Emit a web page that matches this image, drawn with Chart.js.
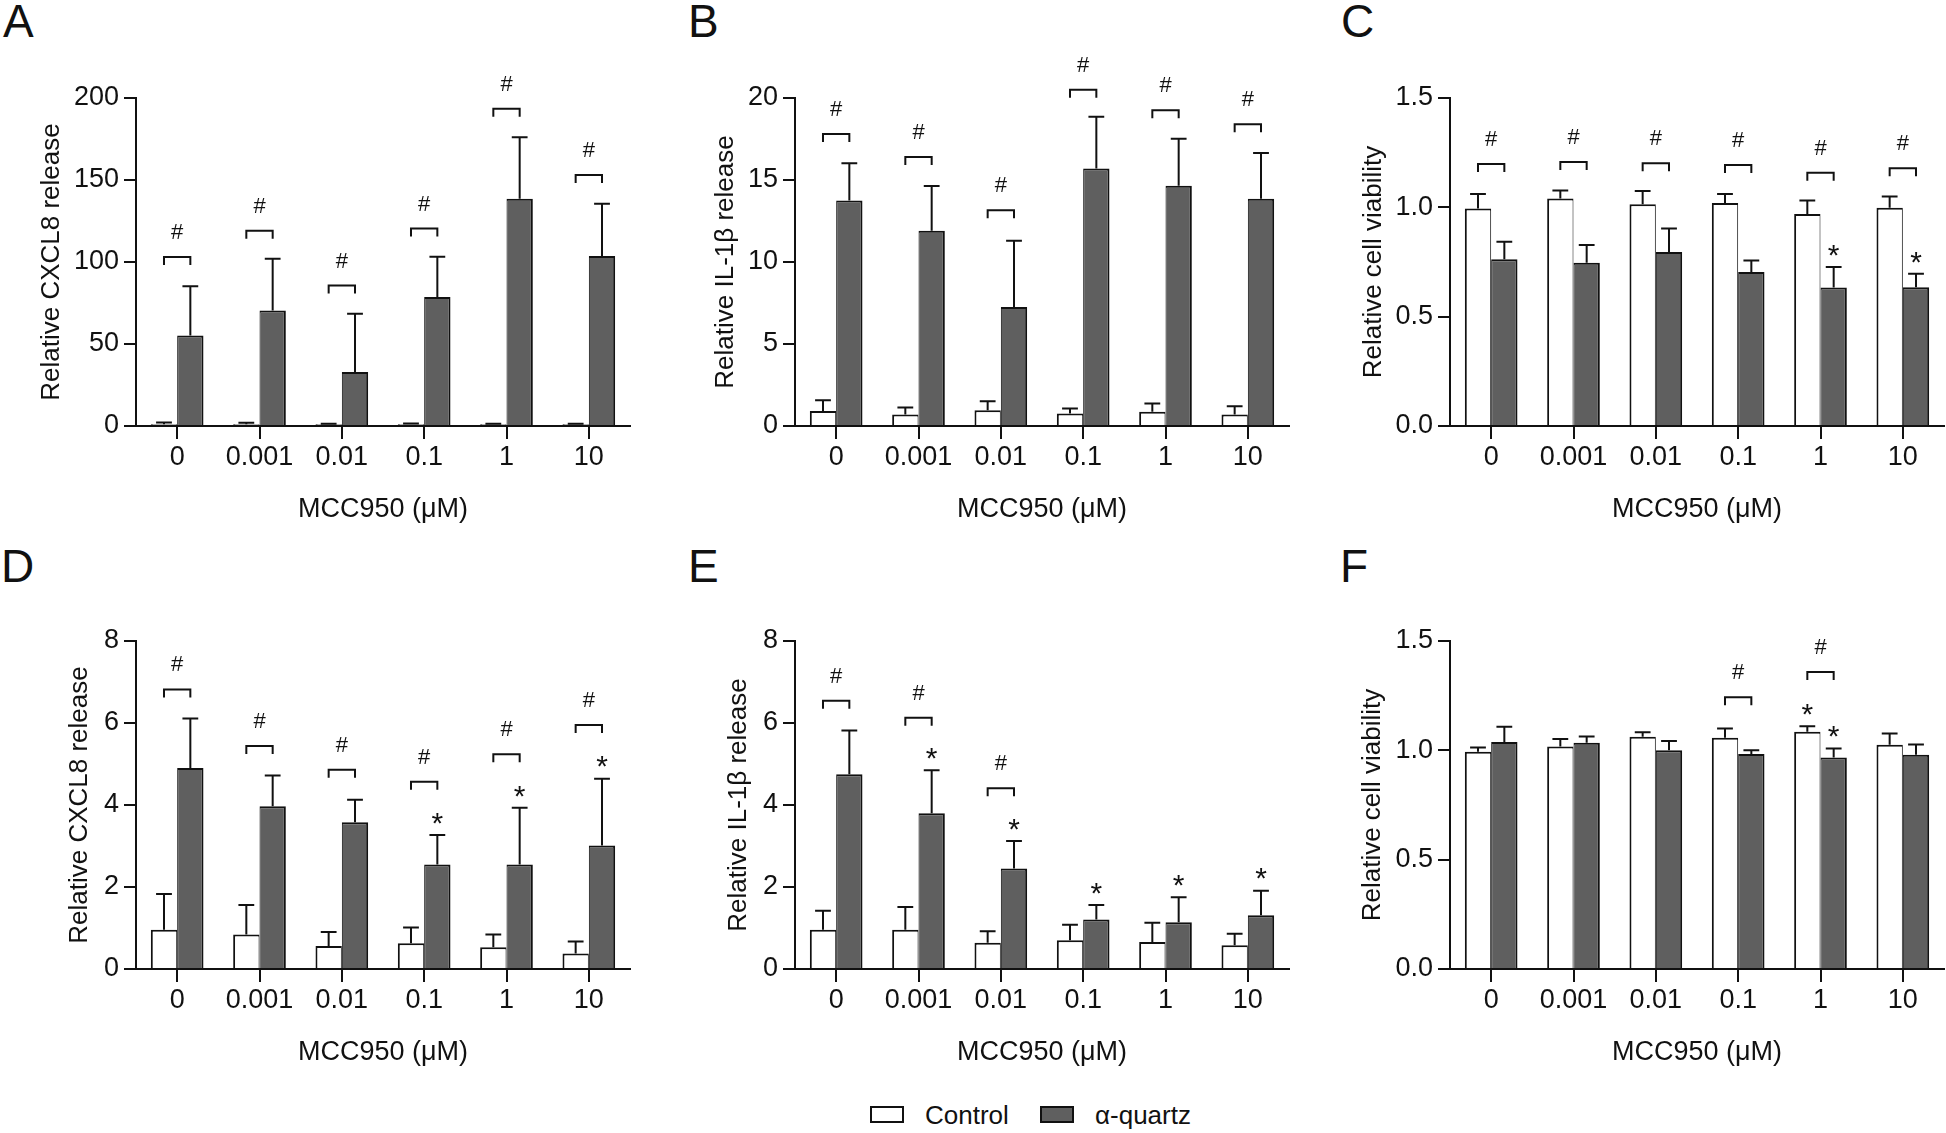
<!DOCTYPE html>
<html>
<head>
<meta charset="utf-8">
<script src="https://cdn.jsdelivr.net/npm/chart.js@4.4.0/dist/chart.umd.min.js"></script>
<style>
  body { margin: 0; background: #fff; width: 1946px; height: 1133px; position: relative; overflow: hidden;
         font-family: "Liberation Sans", Arial, sans-serif; color: #111; }
  canvas { position: absolute; }
  .letter { position: absolute; font-size: 46px; line-height: 46px; }
  .lg-box { position: absolute; width: 34px; height: 17px; box-sizing: border-box; border: 2px solid #111; }
  .lg-text { position: absolute; font-size: 26px; line-height: 26px; white-space: nowrap; }
</style>
</head>
<body>

<div class="letter" style="left:3px;top:-2px">A</div>
<div class="letter" style="left:688px;top:-2px">B</div>
<div class="letter" style="left:1341px;top:-2px">C</div>
<div class="letter" style="left:1px;top:543px">D</div>
<div class="letter" style="left:688px;top:543px">E</div>
<div class="letter" style="left:1340px;top:543px">F</div>

<canvas id="chartA" width="632" height="478" style="left:0px;top:48px"></canvas>
<canvas id="chartB" width="632" height="478" style="left:659px;top:48px"></canvas>
<canvas id="chartC" width="632" height="478" style="left:1314px;top:48px"></canvas>
<canvas id="chartD" width="632" height="478" style="left:0px;top:591px"></canvas>
<canvas id="chartE" width="632" height="478" style="left:659px;top:591px"></canvas>
<canvas id="chartF" width="632" height="478" style="left:1314px;top:591px"></canvas>

<div class="lg-box" style="left:870px;top:1106px;background:#fff"></div>
<div class="lg-text" style="left:925px;top:1102px">Control</div>
<div class="lg-box" style="left:1040px;top:1106px;background:#5f5f5f"></div>
<div class="lg-text" style="left:1095px;top:1102px">α-quartz</div>

<script>
Chart.defaults.font.family = '"Liberation Sans", Arial, sans-serif';
Chart.defaults.color = '#111';

// MCC950 doses, same on every panel
const doses = ['0', '0.001', '0.01', '0.1', '1', '10'];

// A - CXCL8 release
const a_ctrl = [1, 1, 1, 1, 1, 1];
const a_ctrlErr = [1.2, 1, 0.4, 0.5, 0.3, 0.3];
const a_quartz = [55.2, 70.5, 33, 78.7, 138.5, 103.7];
const a_quartzErr = [30, 31.5, 35.5, 24.5, 37.5, 31.8];
const a_hash = [103, 119, 85.7, 120.4, 193.5, 153];

// B - IL-1b release
const b_ctrl = [0.92, 0.7, 0.96, 0.76, 0.87, 0.7];
const b_ctrlErr = [0.65, 0.43, 0.55, 0.31, 0.5, 0.5];
const b_quartz = [13.75, 11.9, 7.25, 15.7, 14.65, 13.85];
const b_quartzErr = [2.27, 2.73, 4.05, 3.15, 2.87, 2.8];
const b_hash = [17.8, 16.4, 13.15, 20.5, 19.25, 18.4];

// C - cell viability
const c_ctrl = [0.995, 1.04, 1.014, 1.02, 0.97, 0.998];
const c_ctrlErr = [0.066, 0.037, 0.061, 0.041, 0.061, 0.052];
const c_quartz = [0.763, 0.747, 0.796, 0.704, 0.633, 0.634];
const c_quartzErr = [0.08, 0.081, 0.107, 0.053, 0.094, 0.062];
const c_hash = [1.198, 1.207, 1.202, 1.194, 1.158, 1.179];
const c_quartzStar = [0, 0, 0, 0, 1, 1];

// D - CXCL8 release
const d_ctrl = [0.96, 0.84, 0.56, 0.63, 0.53, 0.38];
const d_ctrlErr = [0.87, 0.72, 0.34, 0.38, 0.31, 0.29];
const d_quartz = [4.9, 3.97, 3.58, 2.55, 2.55, 3.01];
const d_quartzErr = [1.21, 0.75, 0.55, 0.72, 1.38, 1.63];
const d_hash = [6.82, 5.44, 4.86, 4.57, 5.24, 5.95];
const d_quartzStar = [0, 0, 0, 1, 1, 1];

// E - IL-1b release
const e_ctrl = [0.96, 0.96, 0.64, 0.7, 0.66, 0.58];
const e_ctrlErr = [0.46, 0.55, 0.28, 0.38, 0.47, 0.28];
const e_quartz = [4.75, 3.8, 2.45, 1.21, 1.14, 1.31];
const e_quartzErr = [1.07, 1.05, 0.67, 0.35, 0.61, 0.6];
const e_hash = [6.54, 6.13, 4.41, null, null, null];
const e_quartzStar = [0, 1, 1, 1, 1, 1];

// F - cell viability
const f_ctrl = [0.993, 1.017, 1.062, 1.057, 1.085, 1.025];
const f_ctrlErr = [0.02, 0.035, 0.021, 0.043, 0.025, 0.052];
const f_quartz = [1.038, 1.035, 1.0, 0.983, 0.967, 0.98];
const f_quartzErr = [0.07, 0.028, 0.043, 0.017, 0.041, 0.047];
const f_hash = [null, null, null, 1.243, 1.358, null];
const f_ctrlStar = [0, 0, 0, 0, 1, 0];
const f_quartzStar = [0, 0, 0, 0, 1, 0];

// error bars (upper only), stars and # brackets
const sigPlugin = {
  id: 'sigMarks',
  afterDatasetsDraw: function(chart, args, opts){
    var ctx = chart.ctx;
    var yScale = chart.scales.y;
    ctx.save();
    ctx.strokeStyle = '#111';
    ctx.fillStyle = '#111';
    ctx.lineWidth = 2;
    ctx.textAlign = 'center';

    chart.data.datasets.forEach(function(ds, d){
      var bars = chart.getDatasetMeta(d).data;
      bars.forEach(function(bar, i){
        var top = yScale.getPixelForValue(ds.data[i] + ds.errors[i]);
        var cap = bar.width * 0.3;
        ctx.beginPath();
        ctx.moveTo(bar.x, bar.y);
        ctx.lineTo(bar.x, top);
        ctx.moveTo(bar.x - cap, top);
        ctx.lineTo(bar.x + cap, top);
        ctx.stroke();
        if(ds.stars && ds.stars[i]){
          ctx.font = '30px "Liberation Sans"';
          ctx.textBaseline = 'alphabetic';
          ctx.fillText('*', bar.x, top - 20 + 0.59 * 30);
        }
      });
    });

    var left = chart.getDatasetMeta(0).data;
    var right = chart.getDatasetMeta(1).data;
    var hash = opts.hash;
    for(let i = 0; i < hash.length; i++){
      if(hash[i] == null) continue;
      var yy = yScale.getPixelForValue(hash[i]);
      var x1 = left[i].x, x2 = right[i].x;
      ctx.beginPath();
      ctx.moveTo(x1, yy + 8);
      ctx.lineTo(x1, yy);
      ctx.lineTo(x2, yy);
      ctx.lineTo(x2, yy + 8);
      ctx.stroke();
      ctx.font = '22px "Liberation Sans"';
      ctx.textBaseline = 'middle';
      ctx.fillText('#', (x1 + x2) / 2, yy - 24);
    }
    ctx.restore();
  }
};

function panel(canvasId, p){
  return new Chart(document.getElementById(canvasId), {
    type: 'bar',
    data: {
      labels: doses,
      datasets: [{
        label: 'Control',
        data: p.ctrl,
        errors: p.ctrlErr,
        stars: p.ctrlStar,
        backgroundColor: '#ffffff',
        borderColor: '#111',
        borderWidth: {top: 2, left: 2, right: 1, bottom: 0},
        borderSkipped: false
      }, {
        label: 'α-quartz',
        data: p.quartz,
        errors: p.quartzErr,
        stars: p.quartzStar,
        backgroundColor: '#5f5f5f',
        borderColor: '#111',
        borderWidth: {top: 2, left: 1, right: 2, bottom: 0},
        borderSkipped: false
      }]
    },
    options: {
      responsive: false,
      animation: false,
      layout: {padding: {top: 50, right: 2, bottom: 0, left: 0}},
      datasets: {bar: {categoryPercentage: 0.64, barPercentage: 1}},
      plugins: {
        legend: {display: false},
        tooltip: {enabled: false},
        sigMarks: {hash: p.hash}
      },
      scales: {
        x: {
          grid: {offset: false, drawOnChartArea: false, tickLength: 13, color: '#111', lineWidth: 2},
          border: {display: true, color: '#111', width: 2},
          ticks: {font: {size: 27}, color: '#111', padding: 2},
          title: {display: true, text: 'MCC950 (μM)', font: {size: 27}, color: '#111', padding: 0},
          afterFit: function(s){ s.height = 100; }
        },
        y: {
          min: 0,
          max: p.max,
          grid: {drawOnChartArea: false, tickLength: 12, color: '#111', lineWidth: 2},
          border: {display: true, color: '#111', width: 2},
          ticks: {
            stepSize: p.step,
            padding: 5,
            font: {size: 27},
            color: '#111',
            callback: function(v){ return p.fixed ? v.toFixed(1) : v; }
          },
          title: {display: true, text: p.title, font: {size: 26}, color: '#111', padding: {top: p.titlePad, bottom: 0}},
          afterFit: function(s){ s.width = 136; }
        }
      }
    },
    plugins: [sigPlugin]
  });
}

panel('chartA', {title: 'Relative CXCL8 release', max: 200, step: 50, titlePad: 36,
  ctrl: a_ctrl, ctrlErr: a_ctrlErr, quartz: a_quartz, quartzErr: a_quartzErr, hash: a_hash});
panel('chartB', {title: 'Relative IL-1β release', max: 20, step: 5, titlePad: 51,
  ctrl: b_ctrl, ctrlErr: b_ctrlErr, quartz: b_quartz, quartzErr: b_quartzErr, hash: b_hash});
panel('chartC', {title: 'Relative cell viability', max: 1.5, step: 0.5, fixed: true, titlePad: 44,
  ctrl: c_ctrl, ctrlErr: c_ctrlErr, quartz: c_quartz, quartzErr: c_quartzErr, hash: c_hash, quartzStar: c_quartzStar});
panel('chartD', {title: 'Relative CXCL8 release', max: 8, step: 2, titlePad: 64,
  ctrl: d_ctrl, ctrlErr: d_ctrlErr, quartz: d_quartz, quartzErr: d_quartzErr, hash: d_hash, quartzStar: d_quartzStar});
panel('chartE', {title: 'Relative IL-1β release', max: 8, step: 2, titlePad: 64,
  ctrl: e_ctrl, ctrlErr: e_ctrlErr, quartz: e_quartz, quartzErr: e_quartzErr, hash: e_hash, quartzStar: e_quartzStar});
panel('chartF', {title: 'Relative cell viability', max: 1.5, step: 0.5, fixed: true, titlePad: 43,
  ctrl: f_ctrl, ctrlErr: f_ctrlErr, quartz: f_quartz, quartzErr: f_quartzErr, hash: f_hash,
  ctrlStar: f_ctrlStar, quartzStar: f_quartzStar});
</script>
</body>
</html>
